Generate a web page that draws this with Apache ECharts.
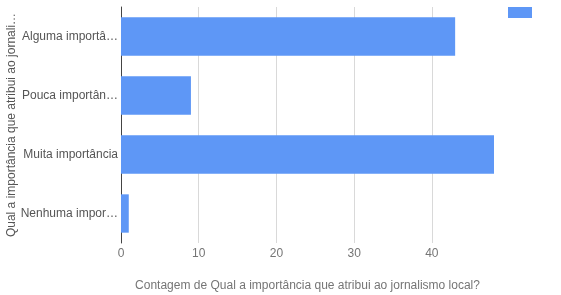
<!DOCTYPE html>
<html><head><meta charset="utf-8">
<script src="https://cdn.jsdelivr.net/npm/echarts@6/dist/echarts.min.js"></script>
<style>html,body{margin:0;padding:0;background:#fff}#c{width:561px;height:295px}</style>
</head><body><div id="c"></div>
<script>
const categories = ['Alguma importância', 'Pouca importância', 'Muita importância', 'Nenhuma importância'];
const counts = [43, 9, 48, 1];
const xTicks = [0, 10, 20, 30, 40];
const xTitle = 'Contagem de Qual a importância que atribui ao jornalismo local?';
const yTitle = 'Qual a importância que atribui ao jornalismo local?';

const chart = echarts.init(document.getElementById('c'));
chart.setOption({
  animation: false,
  textStyle: { fontFamily: 'Liberation Sans, Arial, sans-serif' },
  grid: { left: 121, right: 67, top: 7, bottom: 52, containLabel: false, outerBoundsMode: 'none' },
  legend: {
    show: true, left: 508, top: 7, itemWidth: 24, itemHeight: 11, icon: 'rect', padding: 0,
    formatter: () => '', data: [' ']
  },
  xAxis: {
    type: 'value', min: 0, max: 48, interval: 10,
    name: xTitle, nameLocation: 'middle', nameGap: 37, nameMoveOverlap: false,
    nameTextStyle: { color: '#757575', fontSize: 12 },
    axisLine: { show: false }, axisTick: { show: false },
    axisLabel: { color: '#757575', fontSize: 12, margin: 5,
      formatter: v => xTicks.includes(v) ? String(v) : '' },
    splitLine: { show: true, showMinLine: false, showMaxLine: false, lineStyle: { color: '#d9d9d9' } }
  },
  yAxis: {
    type: 'category', data: categories, inverse: true,
    name: yTitle, nameLocation: 'middle', nameRotate: 90, nameGap: 103, nameMoveOverlap: false,
    nameTextStyle: { color: '#555', fontSize: 12 },
    nameTruncate: { maxWidth: 228, ellipsis: '…' },
    axisLine: { show: true, lineStyle: { color: '#444' } },
    axisTick: { show: false },
    axisLabel: { color: '#555', fontSize: 12, margin: 3, width: 99, overflow: 'truncate', ellipsis: '…' }
  },
  series: [{
    name: ' ', type: 'bar', data: counts, barCategoryGap: '35%',
    itemStyle: { color: '#5e97f6' }
  }]
});
</script></body></html>
